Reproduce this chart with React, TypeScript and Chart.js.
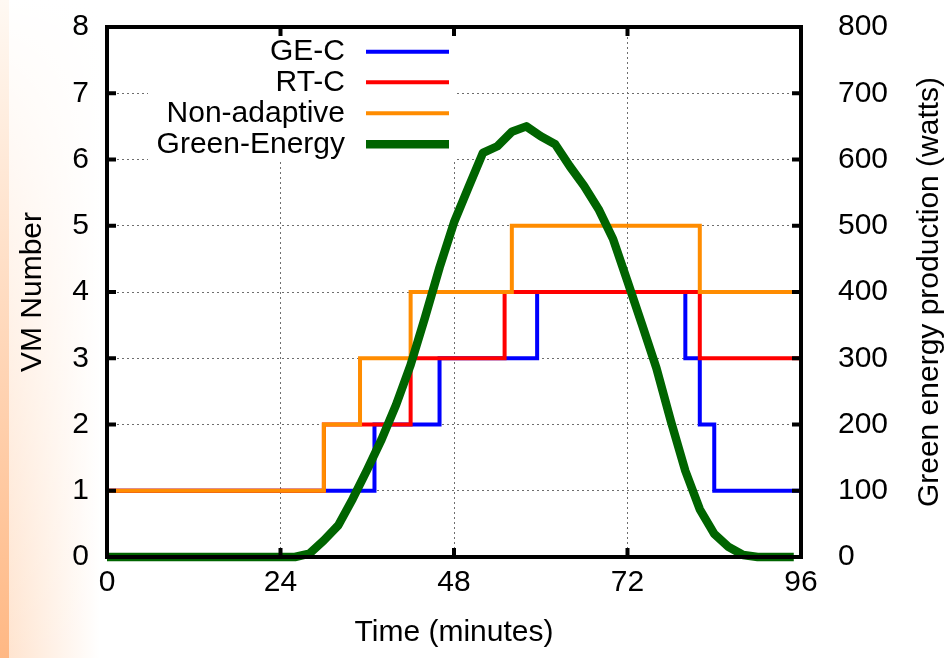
import React, { useEffect, useRef } from 'react';
import { Chart, registerables } from 'chart.js';

Chart.register(...registerables);

// ---- data ----
const xTickValues = [0, 24, 48, 72, 96];
const yTickValues = [0, 1, 2, 3, 4, 5, 6, 7, 8];
const y2TickValues = [0, 100, 200, 300, 400, 500, 600, 700, 800];

const geCX = [0, 37, 46, 59.5, 80, 82, 84, 96];
const geCY = [1, 2, 3, 4, 3, 2, 1, 1];

const rtCX = [0, 30, 42, 55, 82, 96];
const rtCY = [1, 2, 3, 4, 3, 3];

const nonAdX = [0, 30, 35, 42, 56, 82, 96];
const nonAdY = [1, 2, 3, 4, 5, 4, 4];

const greenX = [0, 2, 4, 6, 8, 10, 12, 14, 16, 18, 20, 22, 24, 26, 28, 30, 32, 34, 36, 38, 40, 42, 44, 46, 48, 50, 52, 54, 56, 58, 60, 62, 64, 66, 68, 70, 72, 74, 76, 78, 80, 82, 84, 86, 88, 90, 92, 94, 95];
const greenW = [0, 0, 0, 0, 0, 0, 0, 0, 0, 0, 0, 0, 0, 0, 5, 25, 48, 88, 132, 178, 230, 290, 362, 437, 505, 558, 610, 620, 642, 650, 635, 623, 590, 560, 525, 480, 416, 351, 285, 205, 130, 72, 35, 15, 3, 0, 0, 0, 0];

const legendNames = ['GE-C', 'RT-C', 'Non-adaptive', 'Green-Energy'];
const legendColors = ['#0000ff', '#ff0000', '#ff8c00', '#006400'];
const legendWidths = [4, 4, 4, 8.5];

const FONT = "'Liberation Sans', Arial, Helvetica, sans-serif";

const pts = (xs: number[], ys: number[]) => xs.map((x, i) => ({ x, y: ys[i] }));

const noPad = (s: any) => {
  s.paddingTop = 0;
  s.paddingBottom = 0;
  s.paddingLeft = 0;
  s.paddingRight = 0;
};

export default function App() {
  const ref = useRef<HTMLCanvasElement>(null);

  useEffect(() => {
    document.body.style.margin = '0';
    const canvas = ref.current!;

    const bg = {
      id: 'bg',
      beforeDraw(chart: any) {
        const ctx = chart.ctx as CanvasRenderingContext2D;
        const H = chart.height;
        ctx.save();
        ctx.fillStyle = '#ffffff';
        ctx.fillRect(0, 0, chart.width, H);
        const gh = ctx.createLinearGradient(0, 0, 100, 0);
        gh.addColorStop(0, 'rgba(255,190,140,0.45)');
        gh.addColorStop(1, 'rgba(255,190,140,0)');
        ctx.fillStyle = gh;
        ctx.fillRect(0, 0, 100, H);
        const gv = ctx.createLinearGradient(0, 0, 0, H);
        gv.addColorStop(0, 'rgba(255,255,255,1)');
        gv.addColorStop(0.5, 'rgba(255,255,255,0.5)');
        gv.addColorStop(1, 'rgba(255,255,255,0)');
        ctx.fillStyle = gv;
        ctx.fillRect(0, 0, 100, H);
        const gs = ctx.createLinearGradient(0, 0, 0, H);
        gs.addColorStop(0, '#fff9f3');
        gs.addColorStop(1, '#ffb884');
        ctx.fillStyle = gs;
        ctx.fillRect(0, 0, 9, H);
        ctx.restore();
      },
    };

    const legendBox = {
      id: 'legendBox',
      beforeDatasetsDraw(chart: any) {
        const ctx = chart.ctx as CanvasRenderingContext2D;
        ctx.save();
        ctx.fillStyle = '#ffffff';
        ctx.fillRect(148, 30, 308, 132);
        ctx.restore();
      },
    };

    const frame = {
      id: 'frame',
      afterDraw(chart: any) {
        const ctx = chart.ctx as CanvasRenderingContext2D;
        const { left, right, top, bottom } = chart.chartArea;
        const sx = chart.scales.x;
        const sy = chart.scales.y;
        const sy2 = chart.scales.y2;
        ctx.save();
        ctx.strokeStyle = '#000';
        ctx.lineWidth = 4;
        ctx.lineCap = 'butt';
        const tl = 9;
        ctx.beginPath();
        yTickValues.forEach((v) => {
          const p = sy.getPixelForValue(v);
          ctx.moveTo(left, p);
          ctx.lineTo(left + tl, p);
        });
        y2TickValues.forEach((v) => {
          const p = sy2.getPixelForValue(v);
          ctx.moveTo(right - tl, p);
          ctx.lineTo(right, p);
        });
        xTickValues.forEach((v) => {
          const p = sx.getPixelForValue(v);
          ctx.moveTo(p, bottom);
          ctx.lineTo(p, bottom - tl);
          ctx.moveTo(p, top);
          ctx.lineTo(p, top + tl);
        });
        ctx.stroke();
        ctx.strokeRect(left, top, right - left, bottom - top);

        // legend
        ctx.font = `30px ${FONT}`;
        ctx.fillStyle = '#000';
        ctx.textAlign = 'right';
        ctx.textBaseline = 'middle';
        const rows = [51.7, 82.3, 113.3, 144.3];
        legendNames.forEach((name, i) => {
          ctx.fillText(name, 345, rows[i]);
          ctx.beginPath();
          ctx.strokeStyle = legendColors[i];
          ctx.lineWidth = legendWidths[i];
          ctx.moveTo(366, rows[i]);
          ctx.lineTo(449, rows[i]);
          ctx.stroke();
        });

        // right axis title (reads bottom to top)
        ctx.save();
        ctx.translate(930, (top + bottom) / 2);
        ctx.rotate(-Math.PI / 2);
        ctx.textAlign = 'center';
        ctx.textBaseline = 'middle';
        ctx.fillStyle = '#000';
        ctx.font = `30px ${FONT}`;
        ctx.fillText('Green energy production (watts)', 0, 0);
        ctx.restore();
        ctx.restore();
      },
    };

    const font = { family: FONT, size: 30 };

    const chart = new Chart(canvas, {
      type: 'line',
      data: {
        datasets: [
          {
            label: 'GE-C',
            data: pts(geCX, geCY),
            borderColor: '#0000ff',
            borderWidth: 4,
            stepped: true,
            order: 3,
            yAxisID: 'y',
          },
          {
            label: 'RT-C',
            data: pts(rtCX, rtCY),
            borderColor: '#ff0000',
            borderWidth: 4,
            stepped: true,
            order: 2,
            yAxisID: 'y',
          },
          {
            label: 'Non-adaptive',
            data: pts(nonAdX, nonAdY),
            borderColor: '#ff8c00',
            borderWidth: 4,
            stepped: true,
            order: 1,
            yAxisID: 'y',
          },
          {
            label: 'Green-Energy',
            data: pts(greenX, greenW),
            borderColor: '#006400',
            borderWidth: 8.5,
            borderJoinStyle: 'round',
            order: 0,
            yAxisID: 'y2',
          },
        ] as any,
      },
      options: {
        animation: false,
        responsive: false,
        devicePixelRatio: 1,
        layout: { padding: { top: 27, left: 0, right: 0, bottom: 0 } },
        datasets: { line: { clip: false as any, pointRadius: 0, tension: 0, borderJoinStyle: 'miter' } } as any,
        plugins: { legend: { display: false }, tooltip: { enabled: false } },
        scales: {
          x: {
            type: 'linear',
            min: 0,
            max: 96,
            afterBuildTicks: (s: any) => {
              s.ticks = xTickValues.map((v) => ({ value: v }));
            },
            ticks: { font, color: '#000', padding: 8 },
            grid: { color: '#6e6e6e', lineWidth: 1, drawTicks: false },
            border: { display: false, dash: [2, 3] },
            title: { display: true, text: 'Time (minutes)', font, color: '#000', padding: { top: 0, bottom: 7 } },
            afterFit: (s: any) => {
              s.height = 101;
              noPad(s);
            },
          },
          y: {
            type: 'linear',
            position: 'left',
            min: 0,
            max: 8,
            afterBuildTicks: (s: any) => {
              s.ticks = yTickValues.map((v) => ({ value: v }));
            },
            ticks: { font, color: '#000', padding: 18 },
            grid: { color: '#6e6e6e', lineWidth: 1, drawTicks: false },
            border: { display: false, dash: [2, 3] },
            title: { display: true, text: 'VM Number', font, color: '#000', padding: { top: 15, bottom: 0 } },
            afterFit: (s: any) => {
              s.width = 107;
              noPad(s);
            },
          },
          y2: {
            type: 'linear',
            position: 'right',
            min: 0,
            max: 800,
            afterBuildTicks: (s: any) => {
              s.ticks = y2TickValues.map((v) => ({ value: v }));
            },
            ticks: { font, color: '#000', padding: 37 },
            grid: { display: false, drawTicks: false },
            border: { display: false },
            afterFit: (s: any) => {
              s.width = 147;
              noPad(s);
            },
          },
        },
      } as any,
      plugins: [bg, legendBox, frame],
    });

    return () => chart.destroy();
  }, []);

  return <canvas ref={ref} width={948} height={658} style={{ display: 'block' }} />;
}
